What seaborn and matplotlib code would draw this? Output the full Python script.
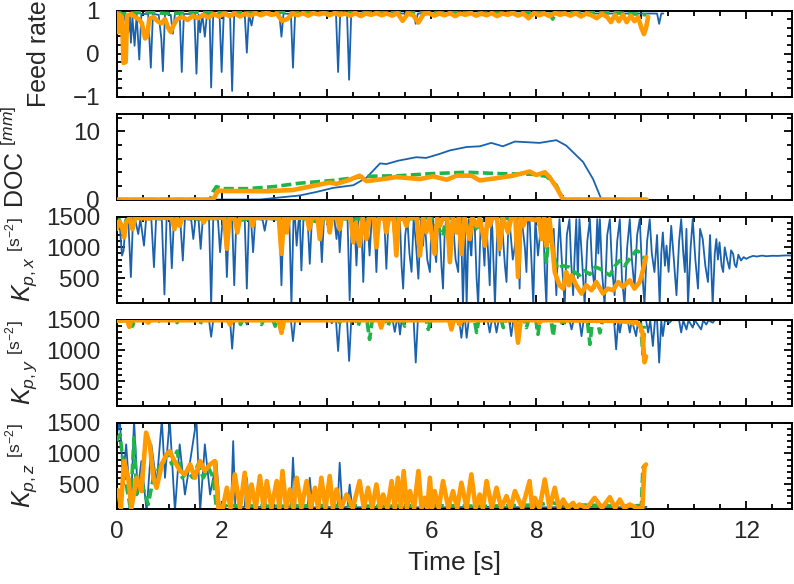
import matplotlib
matplotlib.use("Agg")
import matplotlib.pyplot as plt
from matplotlib.ticker import MultipleLocator
import seaborn as sns

# ---------------- Feed rate ----------------
feed_t_blue = [
    0.00, 0.05, 0.10, 0.14, 0.18, 0.22, 0.25, 0.27, 0.30, 0.34,
    0.38, 0.43, 0.47, 0.60, 0.65, 0.69, 0.80, 0.85, 0.88, 0.92,
    1.03, 1.07, 1.11, 1.20, 1.24, 1.28, 1.48, 1.52, 1.56, 1.59,
    1.63, 1.68, 1.72, 1.77, 1.80, 1.84, 1.96, 2.00, 2.04, 2.16,
    2.20, 2.24, 2.44, 2.48, 2.52, 2.57, 2.61, 3.10, 3.14, 3.18,
    3.32, 3.36, 3.40, 4.18, 4.22, 4.26, 4.39, 4.43, 4.47, 5.66,
    5.70, 5.74, 10.30, 10.34, 10.38, 10.42]
feed_blue = [
    0.60, 0.85, 0.55, 0.90, 0.70, 0.49, 0.88, 0.25, 0.85, 0.18,
    0.90, -0.14, 0.92, 0.92, -0.33, 0.92, 0.90, 0.35, -0.41, 0.92,
    0.90, 0.46, 0.92, 0.92, -0.43, 0.92, 0.92, -0.47, 0.90, 0.49,
    0.92, 0.39, 0.92, 0.92, -0.79, 0.92, 0.92, -0.43, 0.92, 0.92,
    -0.87, 0.93, 0.92, 0.02, 0.92, 0.65, 0.93, 0.92, 0.39, 0.93,
    0.92, -0.33, 0.93, 0.93, -0.43, 0.93, 0.93, -0.61, 0.93, 0.93,
    0.69, 0.93, 0.93, 0.69, 0.93, 0.93]
feed_t_green = [0.00, 0.03, 0.06, 0.10, 0.50, 1.00, 1.50, 2.00, 3.00,
                4.50, 6.00, 7.00, 8.25, 8.31, 8.37, 9.50, 10.10]
feed_green = [0.55, 0.80, 0.95, 0.92, 0.96, 0.93, 0.96, 0.95, 0.96,
              0.95, 0.96, 0.94, 0.95, 0.80, 0.95, 0.95, 0.90]
feed_t_orange = [
    0.00, 0.03, 0.06, 0.10, 0.13, 0.17, 0.20, 0.28, 0.35, 0.42,
    0.48, 0.54, 0.58, 0.62, 0.70, 0.78, 0.85, 0.92, 0.98, 1.03,
    1.08, 1.15, 1.25, 1.35, 1.45, 1.55, 1.65, 1.75, 1.85, 1.95,
    2.05, 2.15, 2.25, 2.35, 2.45, 2.55, 2.65, 2.75, 2.85, 2.95,
    3.05, 3.15, 3.25, 3.35, 3.45, 3.55, 3.65, 3.75, 3.85, 3.95,
    4.05, 4.15, 4.25, 4.35, 4.45, 4.55, 4.65, 4.75, 4.85, 4.95,
    5.05, 5.15, 5.25, 5.35, 5.45, 5.55, 5.65, 5.75, 5.85, 5.95,
    6.05, 6.15, 6.25, 6.35, 6.45, 6.55, 6.65, 6.75, 6.85, 6.95,
    7.05, 7.15, 7.25, 7.35, 7.45, 7.55, 7.65, 7.75, 7.85, 7.95,
    8.05, 8.15, 8.25, 8.35, 8.45, 8.55, 8.65, 8.75, 8.85, 8.95,
    9.05, 9.15, 9.25, 9.35, 9.42, 9.50, 9.57, 9.65, 9.72, 9.80,
    9.87, 9.94, 10.00, 10.05, 10.09, 10.13]
feed_orange = [
    0.95, 0.50, 0.90, 0.85, -0.22, -0.20, 0.88, 0.92, 0.85, 0.80,
    0.70, 0.35, 0.40, 0.80, 0.85, 0.75, 0.70, 0.80, 0.60, 0.50,
    0.65, 0.80, 0.85, 0.78, 0.88, 0.82, 0.90, 0.84, 0.92, 0.86,
    0.93, 0.87, 0.93, 0.86, 0.93, 0.88, 0.94, 0.89, 0.94, 0.90,
    0.93, 0.76, 0.80, 0.93, 0.89, 0.94, 0.88, 0.94, 0.91, 0.94,
    0.89, 0.94, 0.90, 0.93, 0.88, 0.94, 0.87, 0.93, 0.90, 0.94,
    0.89, 0.93, 0.88, 0.94, 0.76, 0.93, 0.89, 0.72, 0.92, 0.94,
    0.88, 0.93, 0.89, 0.94, 0.87, 0.93, 0.90, 0.94, 0.88, 0.93,
    0.89, 0.94, 0.87, 0.93, 0.90, 0.94, 0.88, 0.93, 0.82, 0.94,
    0.89, 0.93, 0.87, 0.94, 0.90, 0.93, 0.88, 0.94, 0.86, 0.93,
    0.89, 0.82, 0.92, 0.85, 0.73, 0.90, 0.75, 0.90, 0.73, 0.88,
    0.75, 0.85, 0.60, 0.45, 0.60, 0.85]

# ---------------- DOC ----------------
doc_t_blue = [0.00, 2.73, 3.10, 3.49, 3.80, 4.12, 4.51, 4.76, 5.02, 5.14,
              5.37, 5.71, 5.90, 6.16, 6.35, 6.67, 6.92, 7.14, 7.36, 7.59,
              8.06, 8.38, 8.57, 8.89, 9.08, 9.24, 10.10]
doc_blue = [0.0, 0.0, 0.3, 0.6, 1.1, 1.7, 2.1, 3.2, 5.3, 5.2,
            5.7, 6.2, 6.1, 6.7, 7.2, 7.7, 7.8, 8.3, 7.8, 8.5,
            8.3, 8.7, 7.9, 5.5, 3.0, 0.0, 0.0]
doc_t_green = [0.00, 1.78, 1.84, 1.90, 2.00, 2.50, 3.00, 3.49, 4.12, 4.76,
               5.40, 6.00, 6.67, 7.30, 7.94, 8.19, 8.38, 8.51, 10.10]
doc_green = [0.0, 0.0, 1.2, 1.9, 1.6, 1.6, 1.9, 2.4, 2.8, 3.4,
             3.5, 3.8, 4.0, 3.8, 3.7, 3.4, 2.1, 0.0, 0.0]
doc_t_orange = [0.00, 1.84, 1.93, 2.10, 2.86, 3.36, 3.68, 4.06, 4.19, 4.44,
                4.63, 4.76, 5.08, 5.33, 5.78, 6.03, 6.29, 6.48, 6.76, 6.92,
                7.30, 7.55, 7.87, 8.00, 8.16, 8.25, 8.38, 8.51, 10.10]
doc_orange = [0.0, 0.0, 1.3, 1.25, 1.22, 1.4, 1.9, 2.5, 2.3, 2.9,
              3.5, 2.7, 3.0, 3.3, 3.0, 3.4, 2.9, 3.5, 3.5, 2.8,
              3.2, 3.5, 4.1, 3.6, 4.0, 3.3, 1.8, 0.0, 0.0]

# ---------------- Kp,x ----------------
kpx_t_blue = [
    0.00, 0.05, 0.10, 0.13, 0.17, 0.22, 0.27, 0.31, 0.36, 0.41,
    0.45, 0.52, 0.56, 0.66, 0.71, 0.75, 0.86, 0.91, 0.95, 1.01,
    1.05, 1.09, 1.21, 1.26, 1.30, 1.42, 1.46, 1.50, 1.56, 1.60,
    1.64, 1.76, 1.80, 1.84, 1.93, 1.97, 2.02, 2.06, 2.10, 2.14,
    2.20, 2.24, 2.28, 2.44, 2.48, 2.52, 2.56, 2.60, 2.64, 2.78,
    2.82, 2.86, 3.10, 3.14, 3.18, 3.29, 3.33, 3.37, 3.40, 3.43,
    3.47, 3.49, 3.52, 3.56, 3.64, 3.68, 3.72, 3.87, 3.91, 3.95,
    4.15, 4.19, 4.22, 4.25, 4.29, 4.40, 4.44, 4.48, 4.53, 4.57,
    4.61, 4.66, 4.70, 4.74, 4.78, 4.82, 4.86, 4.91, 4.95, 4.99,
    5.10, 5.14, 5.18, 5.26, 5.30, 5.34,
    5.40, 5.43, 5.46, 5.50, 5.54, 5.58, 5.62, 5.66, 5.70, 5.75,
    5.80, 5.84, 5.87, 5.92, 5.97, 6.00, 6.03, 6.06, 6.09, 6.12,
    6.15, 6.19, 6.22, 6.25, 6.28, 6.32, 6.35, 6.39, 6.42, 6.46,
    6.51, 6.53, 6.56, 6.60, 6.64, 6.67, 6.71, 6.74, 6.76, 6.79,
    6.82, 6.86, 6.89, 6.94, 6.98, 7.01, 7.04, 7.08, 7.11, 7.14,
    7.16, 7.21, 7.26, 7.30, 7.33, 7.36, 7.40, 7.43, 7.47, 7.50,
    7.55, 7.59, 7.63, 7.66, 7.68, 7.71, 7.74, 7.78, 7.81, 7.84,
    7.87, 7.91, 7.94, 7.98, 8.03, 8.08, 8.13, 8.16, 8.19, 8.22,
    8.24, 8.28, 8.33, 8.36, 8.38, 8.41, 8.44, 8.49, 8.54, 8.58,
    8.63, 8.66, 8.70, 8.73, 8.76, 8.79, 8.82, 8.87, 8.92, 8.97,
    9.02, 9.06, 9.11, 9.16, 9.18, 9.21, 9.25, 9.30, 9.35, 9.40,
    9.44, 9.49, 9.54, 9.59, 9.63, 9.68, 9.73, 9.78, 9.82, 9.87,
    9.92, 9.97, 10.01, 10.06, 10.11, 10.16, 10.20, 10.25, 10.30, 10.35,
    10.38, 10.41, 10.45, 10.48, 10.52, 10.57, 10.62, 10.67, 10.72, 10.76,
    10.80, 10.83, 10.86, 10.89, 10.94, 10.98, 11.03, 11.08, 11.12, 11.17,
    11.22, 11.27, 11.31, 11.36, 11.40, 11.43, 11.46, 11.49, 11.53, 11.56,
    11.59, 11.62, 11.65, 11.68, 11.71, 11.75, 11.78, 11.81, 11.85, 11.90,
    11.95, 12.00, 12.06, 12.13, 12.20, 12.30, 12.38, 12.50, 12.60, 12.75,
    12.89]
kpx_blue = [
    1380, 1450, 866, 946, 1400, 1450, 516, 1450, 1420, 1216,
    1460, 1027, 1460, 1450, 677, 1460, 1450, 232, 1460, 1450,
    660, 1460, 1450, 785, 1460, 1450, 1135, 1460, 1450, 974,
    1460, 1450, 60, 1460, 1450, 920, 1460, 1450, 516, 1460,
    1450, 382, 1460, 1450, 328, 1460, 1450, 920, 1460, 1450,
    1269, 1460, 1450, 382, 1460, 1450, 60, 1460, 1450, 1027,
    1460, 1450, 624, 1460, 1450, 731, 1460, 1450, 758, 1460,
    1450, 1135, 1450, 920, 1460, 1450, 140, 1460, 1450, 704,
    1460, 1450, 435, 1460, 1450, 866, 1460, 1450, 597, 1460,
    1450, 650, 1460, 1450, 1081, 1460,
    1400, 700, 328, 1200, 1460, 900, 600, 1460, 1100, 489,
    1460, 1027, 1460, 800, 597, 1400, 1460, 950, 758, 1300,
    1460, 700, 328, 1200, 1460, 1000, 1135, 1460, 1300, 800,
    597, 1460, 1460, 60, 1300, 60, 1460, 1000, 866, 1460,
    1460, 500, 60, 1460, 1135, 700, 1460, 900, 382, 1460,
    1300, 60, 1460, 866, 1460, 1200, 700, 435, 1460, 1300,
    800, 1027, 1460, 900, 328, 1460, 1300, 1000, 597, 1460,
    1460, 700, 60, 1460, 866, 1300, 1458, 600, 60, 1300,
    1400, 1135, 1300, 600, 220, 1000, 1458, 700, 60, 1200,
    1458, 800, 220, 900, 1458, 500, 1458, 800, 60, 1100,
    1458, 700, 328, 1458, 900, 1458, 600, 60, 1200, 1458,
    700, 220, 1100, 1458, 500, 60, 1000, 1458, 800, 328,
    1200, 1458, 700, 60, 1100, 1458, 900, 597, 1200, 60,
    900, 1242, 700, 1027, 600, 1350, 800, 220, 1100, 1458,
    900, 597, 1300, 60, 1000, 1458, 800, 328, 1300, 1135,
    700, 435, 1200, 60, 900, 1135, 800, 1081, 700, 597,
    1000, 866, 750, 650, 950, 893, 720, 677, 880, 785,
    840, 812, 839, 860, 850, 865, 855, 862, 860, 868,
    866]
kpx_t_green = [
    0.00, 0.05, 0.12, 0.18, 0.40, 0.80, 1.20, 1.60, 2.00, 2.30,
    2.60, 3.00, 3.50, 3.80, 4.00, 4.50, 5.00, 5.50, 6.00, 6.22,
    6.27, 6.60, 6.92, 6.97, 7.50, 8.00, 8.06, 8.12, 8.19, 8.25,
    8.32, 8.40, 8.50, 8.63, 8.72, 8.82, 8.92, 9.02, 9.12, 9.21,
    9.30, 9.40, 9.50, 9.59, 9.68, 9.78, 9.90, 9.97, 10.06]
kpx_green = [
    1350, 1450, 1250, 1450, 1480, 1470, 1480, 1460, 1480, 1430,
    1480, 1470, 1480, 1420, 1480, 1460, 1480, 1460, 1480, 1188,
    1480, 1470, 1269, 1480, 1470, 1480, 1350, 1460, 758, 1300,
    920, 650, 700, 677, 600, 543, 620, 560, 680, 650,
    600, 543, 700, 785, 700, 812, 947, 920, 812]
kpx_t_orange = [
    0.00, 0.05, 0.10, 0.14, 0.18, 0.25, 0.30, 0.35, 0.60, 0.70,
    1.05, 1.10, 1.15, 1.20, 1.25, 1.62, 1.66, 1.70, 2.05, 2.10,
    2.15, 2.25, 2.30, 2.35, 2.55, 2.59, 2.63, 3.09, 3.14, 3.19,
    3.24, 3.28, 3.63, 3.67, 3.72, 3.83, 3.87, 3.92, 4.02, 4.06,
    4.10, 4.21, 4.25, 4.29, 4.46, 4.51, 4.56, 4.63, 4.69, 4.76,
    4.81, 4.90, 4.95, 5.00, 5.10, 5.14, 5.19, 5.28, 5.33, 5.38,
    5.47, 5.52, 5.57, 5.72, 5.78, 5.84, 5.90, 5.96, 6.06, 6.11,
    6.16, 6.22, 6.30, 6.35, 6.41, 6.48, 6.52, 6.57, 6.63, 6.73,
    6.78, 6.86, 6.92, 7.02, 7.07, 7.11, 7.16, 7.25, 7.30, 7.36,
    7.46, 7.52, 7.60, 7.65, 7.70, 7.75, 7.81, 7.87, 8.00, 8.05,
    8.10, 8.15, 8.19, 8.25, 8.32, 8.35, 8.44, 8.51, 8.57, 8.62,
    8.67, 8.76, 8.86, 8.95, 9.05, 9.14, 9.27, 9.36, 9.46, 9.56,
    9.65, 9.78, 9.87, 9.97, 10.03, 10.09]
kpx_orange = [
    1300, 1420, 1350, 1162, 1400, 1480, 1296, 1480, 1470, 1480,
    1480, 1296, 1480, 1350, 1480, 1480, 1404, 1480, 1480, 974,
    1480, 1470, 1242, 1480, 1480, 1350, 1480, 1480, 893, 1480,
    1242, 1480, 1480, 1296, 1480, 1480, 1135, 1480, 1480, 1242,
    1480, 1480, 1296, 1480, 1480, 1081, 1400, 1027, 1480, 1135,
    1480, 1480, 1000, 1480, 1480, 1242, 1480, 1480, 866, 1480,
    1480, 1350, 1480, 1480, 866, 1480, 1242, 1480, 893, 1480,
    1350, 1480, 1480, 758, 1480, 1242, 1480, 893, 1480, 1135,
    1480, 1350, 1480, 1027, 1480, 1350, 1480, 1480, 974, 1480,
    1242, 1480, 1480, 516, 1480, 1350, 1480, 1458, 1440, 1480,
    1135, 1480, 1027, 1458, 866, 597, 382, 328, 597, 382,
    543, 382, 247, 382, 301, 435, 247, 328, 301, 435,
    355, 462, 328, 435, 624, 839]

# ---------------- Kp,y ----------------
kpy_t_blue = [
    0.00, 1.76, 1.80, 1.84, 2.16, 2.20, 2.24, 2.45, 2.48, 2.52,
    3.32, 3.36, 3.40, 4.07, 4.10, 4.13, 4.18, 4.22, 4.26, 4.39,
    4.43, 4.47, 5.26, 5.30, 5.34, 5.37, 5.40, 5.43, 5.66, 5.70,
    5.74, 6.53, 6.57, 6.61, 6.64, 6.67, 6.71, 7.07, 7.11, 7.15,
    7.20, 7.24, 7.28, 7.48, 7.52, 7.56, 8.63, 8.67, 8.71, 8.82,
    8.86, 8.90, 9.48, 9.52, 9.56, 9.59, 9.63, 9.74, 9.78, 9.82,
    9.90, 9.94, 10.09, 10.13, 10.17, 10.22, 10.26, 10.30, 10.34, 10.38,
    10.41, 10.45, 10.54, 10.58, 10.72, 10.76, 10.80, 10.86, 10.90, 10.98,
    11.02, 11.14, 11.18, 11.24, 11.28, 11.36, 11.40]
kpy_blue = [
    1490, 1490, 1221, 1490, 1490, 1027, 1490, 1490, 1420, 1490,
    1490, 1150, 1490, 1490, 1440, 1490, 1490, 989, 1490, 1490,
    827, 1490, 1490, 1300, 1490, 1490, 1258, 1490, 1490, 801,
    1490, 1490, 1204, 1490, 1490, 1204, 1490, 1490, 1290, 1490,
    1490, 1290, 1490, 1490, 1231, 1490, 1490, 1340, 1490, 1490,
    1231, 1490, 1490, 1016, 1490, 1290, 1490, 1490, 1290, 1490,
    1231, 1490, 1490, 1290, 1490, 1070, 1490, 1490, 801, 1490,
    1231, 1490, 1450, 1490, 1490, 1290, 1490, 1340, 1490, 1370,
    1490, 1340, 1490, 1420, 1490, 1450, 1490]
kpy_t_green = [
    0.00, 0.27, 0.30, 0.34, 0.80, 0.83, 0.86, 1.12, 1.15, 1.18,
    1.56, 1.59, 1.62, 2.33, 2.36, 2.40, 2.73, 2.76, 2.80, 2.98,
    3.02, 3.06, 4.22, 4.25, 4.28, 4.56, 4.60, 4.64, 4.77, 4.82,
    4.87, 5.13, 5.17, 5.21, 5.45, 5.49, 5.53, 5.90, 5.94, 5.98,
    6.82, 6.86, 6.90, 7.33, 7.37, 7.41, 7.77, 7.81, 7.85, 7.99,
    8.03, 8.07, 8.28, 8.32, 8.36, 8.47, 8.51, 8.55, 8.97, 9.02,
    9.07, 9.16, 9.21, 9.26, 9.98, 10.03, 10.06]
kpy_green = [
    1480, 1490, 1393, 1490, 1490, 1450, 1490, 1490, 1450, 1490,
    1490, 1420, 1490, 1490, 1420, 1490, 1490, 1420, 1490, 1490,
    1393, 1490, 1490, 1450, 1490, 1490, 1393, 1490, 1490, 1177,
    1490, 1490, 1393, 1490, 1490, 1393, 1490, 1490, 1340, 1490,
    1490, 1290, 1490, 1490, 1370, 1490, 1490, 1370, 1490, 1490,
    1260, 1490, 1490, 1231, 1490, 1490, 1393, 1490, 1490, 1097,
    1490, 1490, 1285, 1490, 1480, 935, 1400]
kpy_t_orange = [
    0.00, 0.20, 0.24, 0.28, 0.56, 0.60, 0.64, 2.12, 2.16, 2.20,
    3.09, 3.14, 3.19, 5.00, 5.04, 5.08, 6.34, 6.38, 6.42, 6.50,
    6.54, 6.58, 7.60, 7.65, 7.70, 8.02, 8.06, 8.10, 9.50, 9.80,
    9.84, 9.90, 9.97, 10.02, 10.06, 10.09]
kpy_orange = [
    1480, 1490, 1382, 1490, 1490, 1450, 1490, 1490, 1420, 1490,
    1490, 1285, 1490, 1490, 1370, 1490, 1490, 1340, 1490, 1490,
    1420, 1490, 1490, 1124, 1490, 1490, 1450, 1490, 1480, 1460,
    1440, 1470, 1400, 1300, 806, 900]

# ---------------- Kp,z ----------------
kpz_t_blue = [
    0.00, 0.06, 0.12, 0.18, 0.27, 0.33, 0.40, 0.47, 0.57, 0.66,
    0.76, 0.86, 0.92, 1.01, 1.11, 1.20, 1.30, 1.40, 1.52, 1.59,
    1.68, 1.78, 1.90, 1.97, 2.10, 2.18, 2.22, 2.26, 2.44, 2.48,
    2.53, 2.76, 2.80, 2.85, 3.32, 3.36, 3.41, 3.64, 3.68, 3.73,
    4.21, 4.25, 4.30, 4.40, 4.44, 4.49, 5.00, 6.00, 7.00, 8.00,
    9.00, 10.00, 10.10]
kpz_blue = [
    1300, 1550, 603, 1147, 60, 1550, 386, 875, 60, 1147,
    494, 1550, 603, 1550, 60, 1147, 330, 875, 1550, 60,
    1147, 330, 875, 60, 150, 130, 1200, 120, 130, 603,
    120, 130, 440, 120, 130, 930, 120, 130, 603, 120,
    130, 848, 120, 130, 494, 120, 130, 120, 130, 120,
    130, 120, 130]
kpz_t_green = [
    0.00, 0.06, 0.12, 0.20, 0.26, 0.33, 0.38, 0.45, 0.52, 0.60,
    0.70, 0.80, 0.90, 0.97, 1.05, 1.15, 1.25, 1.35, 1.45, 1.55,
    1.65, 1.75, 1.84, 1.90, 2.00, 3.00, 4.00, 5.00, 6.00, 7.00,
    8.00, 8.30, 8.50, 9.00, 9.50, 10.00, 10.03, 10.06]
kpz_green = [
    1200, 1310, 875, 400, 113, 1255, 330, 603, 386, 168,
    603, 750, 900, 1000, 821, 1038, 603, 712, 603, 821,
    603, 766, 603, 113, 150, 140, 150, 140, 150, 140,
    160, 200, 150, 160, 140, 150, 766, 800]
kpz_t_orange = [
    0.00, 0.03, 0.08, 0.14, 0.22, 0.28, 0.38, 0.47, 0.56, 0.63,
    0.70, 0.76, 0.86, 0.95, 1.01, 1.10, 1.21, 1.30, 1.40, 1.49,
    1.59, 1.68, 1.78, 1.87, 1.94, 2.02, 2.10, 2.17, 2.25, 2.35,
    2.44, 2.50, 2.57, 2.65, 2.73, 2.80, 2.86, 2.95, 3.05, 3.10,
    3.16, 3.23, 3.30, 3.37, 3.43, 3.52, 3.62, 3.70, 3.78, 3.84,
    3.90, 3.98, 4.06, 4.12, 4.19, 4.28, 4.38, 4.50, 4.63, 4.71,
    4.79, 4.87, 4.95, 5.02, 5.08, 5.16, 5.24, 5.30, 5.36, 5.42,
    5.47, 5.53, 5.59, 5.67, 5.75, 5.81, 5.87, 5.92, 5.97, 6.01,
    6.06, 6.14, 6.22, 6.32, 6.41, 6.49, 6.57, 6.67, 6.76, 6.84,
    6.92, 6.98, 7.05, 7.15, 7.24, 7.33, 7.43, 7.51, 7.59, 7.73,
    7.87, 7.92, 7.97, 8.06, 8.16, 8.25, 8.35, 8.43, 8.51, 8.60,
    8.70, 8.76, 8.82, 8.96, 9.11, 9.25, 9.40, 9.50, 9.59, 9.68,
    9.78, 9.92, 10.02, 10.06, 10.09]
kpz_orange = [
    400, 397, 113, 875, 603, 113, 603, 386, 1337, 1147,
    603, 440, 821, 984, 1038, 875, 712, 658, 821, 603,
    875, 712, 821, 875, 113, 110, 440, 110, 658, 110,
    685, 110, 494, 110, 631, 110, 549, 110, 549, 110,
    712, 110, 413, 110, 603, 110, 549, 110, 440, 110,
    603, 110, 631, 110, 413, 110, 330, 110, 549, 110,
    440, 110, 494, 110, 330, 110, 549, 110, 603, 110,
    712, 110, 386, 110, 712, 110, 276, 110, 603, 110,
    386, 110, 549, 110, 386, 110, 522, 110, 658, 110,
    330, 110, 549, 110, 440, 110, 304, 110, 386, 110,
    549, 110, 276, 110, 576, 110, 440, 110, 249, 110,
    195, 110, 168, 110, 276, 110, 287, 110, 249, 110,
    168, 110, 110, 794, 820]

ylabels = ["Feed rate", r"DOC $^{[mm]}$", r"$K_{p,x}$ $^{[\mathrm{s}^{-2}]}$",
           r"$K_{p,y}$ $^{[\mathrm{s}^{-2}]}$", r"$K_{p,z}$ $^{[\mathrm{s}^{-2}]}$"]

c_blue = "#1a62ad"
c_green = "#1fb54a"
c_orange = "#ff9a00"

sns.set_style("ticks")
plt.rcParams["font.family"] = ["Liberation Sans", "DejaVu Sans"]
plt.rcParams["mathtext.fontset"] = "custom"
plt.rcParams["mathtext.rm"] = "Liberation Sans"
plt.rcParams["mathtext.it"] = "Liberation Sans:italic"
plt.rcParams["mathtext.bf"] = "Liberation Sans:bold"

fig, axes = plt.subplots(5, 1, figsize=(7.94, 5.84), dpi=100, sharex=True)
fig.subplots_adjust(left=0.147, right=0.998, top=0.982, bottom=0.129, hspace=0.198)

panels = [
    (feed_t_blue, feed_blue, feed_t_green, feed_green, feed_t_orange, feed_orange),
    (doc_t_blue, doc_blue, doc_t_green, doc_green, doc_t_orange, doc_orange),
    (kpx_t_blue, kpx_blue, kpx_t_green, kpx_green, kpx_t_orange, kpx_orange),
    (kpy_t_blue, kpy_blue, kpy_t_green, kpy_green, kpy_t_orange, kpy_orange),
    (kpz_t_blue, kpz_blue, kpz_t_green, kpz_green, kpz_t_orange, kpz_orange),
]

for ax, (tb, vb, tg, vg, to, vo) in zip(axes, panels):
    sns.lineplot(x=tb, y=vb, ax=ax, color=c_blue, lw=1.3, sort=False,
                 estimator=None, zorder=2)
    sns.lineplot(x=tg, y=vg, ax=ax, color=c_green, lw=2.6, linestyle=(0, (2.8, 1.2)),
                 sort=False, estimator=None, zorder=3)
    sns.lineplot(x=to, y=vo, ax=ax, color=c_orange, lw=3.3, sort=False,
                 estimator=None, zorder=4)

    ax.set_xlim(0, 12.88)
    ax.xaxis.set_major_locator(MultipleLocator(2))
    ax.xaxis.set_minor_locator(MultipleLocator(0.5))
    ax.tick_params(which="both", direction="in", top=True, right=True,
                   width=1.3, color="black", labelsize=17.5)
    ax.tick_params(which="major", length=6)
    ax.tick_params(which="minor", length=3.5)
    ax.tick_params(axis="y", pad=12)
    ax.tick_params(axis="x", pad=9)
    for s in ax.spines.values():
        s.set_linewidth(1.4)
        s.set_color("black")

# y axes
axes[0].set_ylim(-1, 1)
axes[0].yaxis.set_major_locator(MultipleLocator(1))
axes[0].yaxis.set_minor_locator(MultipleLocator(0.2))
axes[1].set_ylim(0, 12.6)
axes[1].yaxis.set_major_locator(MultipleLocator(10))
axes[1].yaxis.set_minor_locator(MultipleLocator(2))
for ax in axes[2:]:
    ax.set_ylim(100, 1500)
    ax.yaxis.set_major_locator(MultipleLocator(500))
    ax.yaxis.set_minor_locator(MultipleLocator(100))

label_x = [-0.097, -0.13, -0.114, -0.114, -0.114]
for ax, lab, lx in zip(axes, ylabels, label_x):
    ax.set_ylabel(lab, fontsize=18)
    ax.yaxis.set_label_coords(lx, 0.5)

axes[-1].set_xlabel("Time [s]", fontsize=19, labelpad=6)

fig.savefig("out.png", dpi=100)
